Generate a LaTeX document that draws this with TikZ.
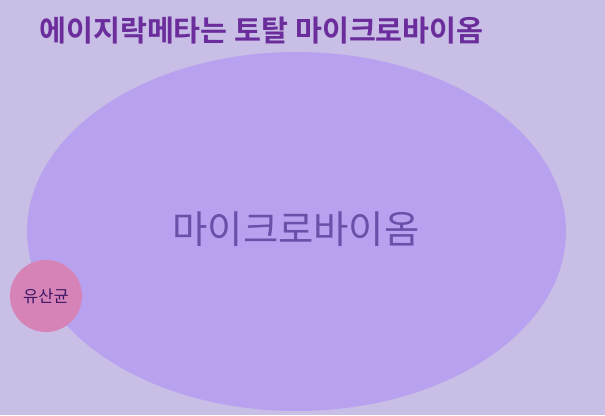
\documentclass[tikz,border=0pt]{standalone}
\usepackage{fontspec}
\newfontfamily\krfont{Noto Sans CJK KR}
\newfontfamily\krbold{Noto Sans CJK KR Bold}
\definecolor{bgc}{HTML}{C8BEE6}
\definecolor{ellc}{HTML}{B8A2F0}
\definecolor{titlec}{HTML}{6B2D9B}
\definecolor{elltext}{HTML}{6A50A8}
\definecolor{circc}{HTML}{D684B7}
\definecolor{circtext}{HTML}{3D1766}
\tikzset{
  titlestyle/.style={anchor=west, inner sep=0pt, text=titlec, font=\krbold\fontsize{29.3}{32}\selectfont},
  bigset/.style={ellipse, fill=ellc, minimum width=539pt, minimum height=359pt, inner sep=0pt},
  bigtext/.style={text=elltext, font=\krfont\fontsize{38.4}{42}\selectfont},
  smallset/.style={circle, fill=circc, minimum size=72pt, inner sep=0pt, text=circtext, font=\krfont\fontsize{16.5}{20}\selectfont}
}
\usetikzlibrary{shapes.geometric}
\begin{document}
\begin{tikzpicture}[x=1pt,y=-1pt]
\fill[bgc] (0,0) rectangle (605,415);
\useasboundingbox (0,0) rectangle (605,415);
\node[titlestyle] (title) at (39,31) {에이지락메타는 토탈 마이크로바이옴};
\node[bigset] (micro) at (296.5,231.5) {};
\node[bigtext] (microlabel) at (296,229) {마이크로바이옴};
\node[smallset] (lacto) at (46,296) {유산균};
\end{tikzpicture}
\end{document}
